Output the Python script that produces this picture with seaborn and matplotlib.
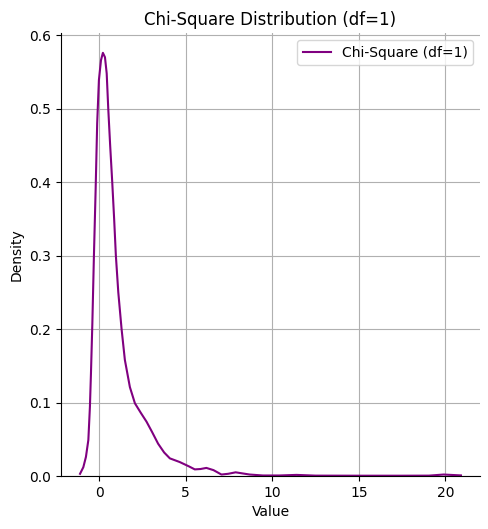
import matplotlib
matplotlib.use("Agg")
import matplotlib.pyplot as plt
import seaborn as sns
import pandas as pd

# Density curve values
values = [-1.11, -0.92, -0.77, -0.63, -0.54, -0.48, -0.40, -0.31, -0.21, -0.12, -0.02, 0.10,
          0.21, 0.33, 0.43, 0.52, 0.63, 0.75, 0.86, 0.96, 1.10, 1.29, 1.48, 1.77, 2.06, 2.40,
          2.73, 3.05, 3.40, 3.75, 4.08, 4.65, 5.19, 5.52, 5.85, 6.19, 6.60, 7.06, 7.45,
          7.88, 8.69, 9.46, 10.4, 11.4, 12.5, 15.0, 17.5, 19.05, 19.9, 20.9]
density = [0.003, 0.012, 0.026, 0.049, 0.094, 0.139, 0.207, 0.298, 0.389, 0.480, 0.539, 0.566,
           0.576, 0.570, 0.548, 0.500, 0.450, 0.400, 0.350, 0.300, 0.250, 0.200, 0.158, 0.121, 0.099, 0.086,
           0.074, 0.060, 0.044, 0.032, 0.024, 0.019, 0.013, 0.009, 0.0095, 0.011, 0.008, 0.002, 0.003,
           0.005, 0.002, 0.0007, 0.0007, 0.0015, 0.0005, 0.0004, 0.0004, 0.0005, 0.002, 0.0008]
series_label = "Chi-Square (df=1)"

df = pd.DataFrame({"Value": values, "Density": density})

fig = plt.figure(figsize=(4.89, 5.29), dpi=100)
ax = fig.add_axes([61/489, 1-476/529, (480-61)/489, (476-33)/529])
sns.lineplot(data=df, x="Value", y="Density", color="purple", linewidth=1.5,
             label=series_label, ax=ax)
ax.set_ylim(0, 0.603)
ax.set_yticks([0.0, 0.1, 0.2, 0.3, 0.4, 0.5, 0.6])
ax.grid(True)
ax.set_axisbelow(True)
sns.despine(ax=ax)
ax.set_title("Chi-Square Distribution (df=1)", fontsize=12)
ax.set_xlabel("Value")
ax.set_ylabel("Density")
ax.legend(loc="upper right")
fig.savefig("out.png", dpi=100)
